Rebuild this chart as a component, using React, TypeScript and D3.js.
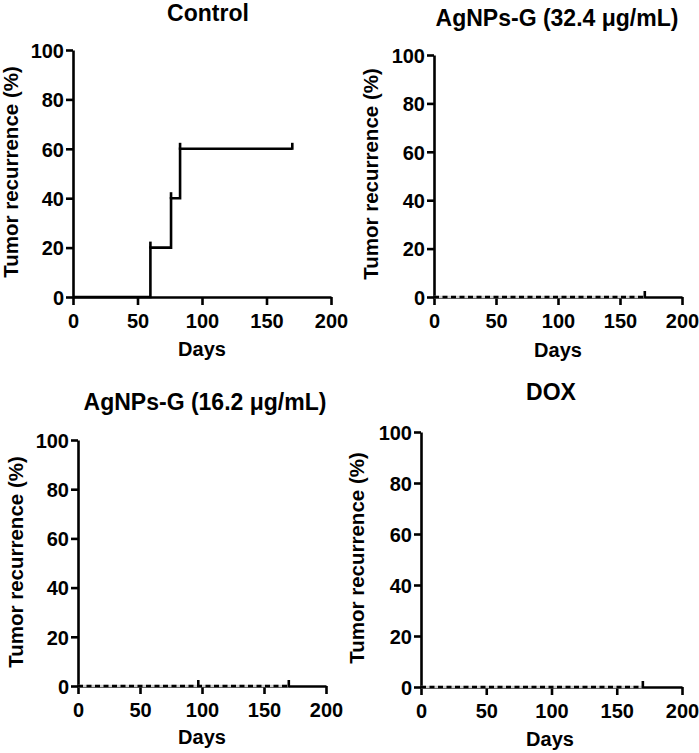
import { useEffect, useRef } from 'react';
import * as d3 from 'd3';

// panel titles
const titles = ['Control', 'AgNPs-G (32.4 μg/mL)', 'AgNPs-G (16.2 μg/mL)', 'DOX'];

// step curves: days and cumulative recurrence (%)
const controlDays = [0, 60, 76, 83, 170];
const controlRecurrence = [0, 20, 40, 60, 60];
const ag324Days = [0, 170];
const ag324Recurrence = [0, 0];
const ag162Days = [0, 170];
const ag162Recurrence = [0, 0];
const doxDays = [0, 170];
const doxRecurrence = [0, 0];

// censored marks (day, value)
const controlCensored: [number, number][] = [[60, 20], [76, 40], [83, 60], [170, 60]];
const ag324Censored: [number, number][] = [[170, 0]];
const ag162Censored: [number, number][] = [[97, 0], [170, 0]];
const doxCensored: [number, number][] = [[170, 0]];

const xTicks = [0, 50, 100, 150, 200];
const yTicks = [0, 20, 40, 60, 80, 100];

const W = 699;
const H = 753;
const FONT = 'Arial, "Liberation Sans", sans-serif';

export default function App() {
  const svgRef = useRef<SVGSVGElement>(null);

  useEffect(() => {
    if (!svgRef.current) return;
    const svg = d3.select(svgRef.current);
    svg.selectAll('*').remove();

    const panels = [
      { title: titles[0], days: controlDays, vals: controlRecurrence, cens: controlCensored, dashed: false,
        x0: 73, x1: 331, y0: 297, y1: 50, titleX: 208, titleY: 21, yLabX: 11, yLabY: 172, xLabX: 202, xLabY: 356 },
      { title: titles[1], days: ag324Days, vals: ag324Recurrence, cens: ag324Censored, dashed: true,
        x0: 434, x1: 682, y0: 297, y1: 55, titleX: 557, titleY: 26, yLabX: 371, yLabY: 174, xLabX: 558, xLabY: 357 },
      { title: titles[2], days: ag162Days, vals: ag162Recurrence, cens: ag162Censored, dashed: true,
        x0: 78, x1: 326, y0: 686, y1: 440, titleX: 205, titleY: 410, yLabX: 16, yLabY: 562, xLabX: 202, xLabY: 744 },
      { title: titles[3], days: doxDays, vals: doxRecurrence, cens: doxCensored, dashed: true,
        x0: 421, x1: 682, y0: 687, y1: 432, titleX: 551, titleY: 400, yLabX: 357, yLabY: 558, xLabX: 550, xLabY: 746 },
    ];

    panels.forEach(p => {
      const x = d3.scaleLinear().domain([0, 200]).range([p.x0, p.x1]);
      const y = d3.scaleLinear().domain([0, 100]).range([p.y0, p.y1]);
      const g = svg.append('g');

      // axes
      const xAxis = g.append('g')
        .attr('transform', `translate(0,${p.y0})`)
        .call(d3.axisBottom(x).tickValues(xTicks).tickSize(8).tickSizeOuter(0).tickPadding(9));
      const yAxis = g.append('g')
        .attr('transform', `translate(${p.x0},0)`)
        .call(d3.axisLeft(y).tickValues(yTicks).tickSize(7).tickSizeOuter(0).tickPadding(2));
      [xAxis, yAxis].forEach(a => {
        a.selectAll('path,line').attr('stroke', '#000').attr('stroke-width', 2.6);
        a.selectAll('text')
          .attr('fill', '#000')
          .attr('font-family', FONT)
          .attr('font-weight', 'bold')
          .attr('font-size', 20);
      });
      yAxis.selectAll('text').attr('dy', '0.36em');

      // survival-style step line
      const pts = p.days.map((d, i) => [d, p.vals[i]] as [number, number]);
      const line = d3.line<[number, number]>()
        .x(d => x(d[0]))
        .y(d => y(d[1]))
        .curve(d3.curveStepAfter);

      if (p.dashed) {
        g.append('path').attr('d', line(pts))
          .attr('fill', 'none').attr('stroke', '#cfcfcf').attr('stroke-width', 2.6);
        g.append('path').attr('d', line(pts))
          .attr('fill', 'none').attr('stroke', '#000').attr('stroke-width', 2.6)
          .attr('stroke-dasharray', '5,3.5');
      } else {
        g.append('path').attr('d', line(pts))
          .attr('fill', 'none').attr('stroke', '#000').attr('stroke-width', 2.6)
          .attr('stroke-linejoin', 'miter');
      }

      // censor ticks
      g.selectAll('line.cens')
        .data(p.cens)
        .join('line')
        .attr('x1', d => x(d[0]))
        .attr('x2', d => x(d[0]))
        .attr('y1', d => y(d[1]) + 1)
        .attr('y2', d => y(d[1]) - 6)
        .attr('stroke', '#000')
        .attr('stroke-width', 2.6);

      // titles
      g.append('text')
        .attr('x', p.titleX).attr('y', p.titleY)
        .attr('text-anchor', 'middle')
        .attr('font-family', FONT).attr('font-weight', 'bold').attr('font-size', 23)
        .text(p.title);
      g.append('text')
        .attr('x', p.xLabX).attr('y', p.xLabY)
        .attr('text-anchor', 'middle')
        .attr('font-family', FONT).attr('font-weight', 'bold').attr('font-size', 20)
        .text('Days');
      g.append('text')
        .attr('transform', `translate(${p.yLabX},${p.yLabY}) rotate(-90)`)
        .attr('text-anchor', 'middle')
        .attr('dy', '0.35em')
        .attr('font-family', FONT).attr('font-weight', 'bold').attr('font-size', 20.5)
        .text('Tumor recurrence (%)');
    });
  }, []);

  return (
    <svg ref={svgRef} width={W} height={H}
      style={{ position: 'absolute', left: 0, top: 0, background: '#fff' }} />
  );
}
